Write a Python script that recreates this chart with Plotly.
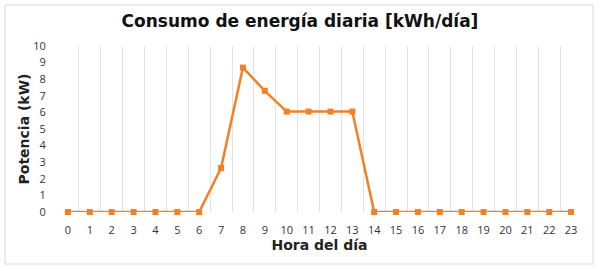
import plotly.graph_objects as go

hours = list(range(24))
potencia = [0, 0, 0, 0, 0, 0, 0, 2.65, 8.7, 7.3, 6.05, 6.05, 6.05, 6.05,
            0, 0, 0, 0, 0, 0, 0, 0, 0, 0]
y_ticks = list(range(0, 11))

orange = "#F28025"
W, H = 600, 271
L, R, T, B = 57, 18, 46, 59
pw, ph = W - L - R, H - T - B

fig = go.Figure()
fig.add_trace(go.Scatter(
    x=hours, y=potencia, mode="lines+markers",
    line=dict(color=orange, width=2.5),
    marker=dict(symbol="square", size=6, color=orange),
    cliponaxis=False, showlegend=False,
))

fig.update_layout(
    width=W, height=H,
    margin=dict(l=L, r=R, t=T, b=B, autoexpand=False),
    paper_bgcolor="white", plot_bgcolor="white",
    title=dict(text="<b>Consumo de energía diaria [kWh/día]</b>",
               x=0.5, xanchor="center", y=1 - 21 / H, yanchor="middle",
               font=dict(family="DejaVu Sans", size=17, color="#111111")),
    xaxis=dict(range=[-0.5, 23.5], tickmode="array", tickvals=hours,
               ticktext=[str(h) for h in hours], showgrid=False,
               zeroline=False, showline=False, automargin=False,
               ticks="outside", ticklen=8, tickcolor="rgba(0,0,0,0)",
               tickfont=dict(family="Open Sans", size=11, color="#333333"),
               title=dict(text="<b>Hora del día</b>", standoff=3,
                          font=dict(family="DejaVu Sans", size=14, color="#222222")),
               minor=dict(tick0=-0.5, dtick=1, showgrid=True,
                          gridcolor="#E3E3E3", gridwidth=1, ticks="")),
    yaxis=dict(range=[0, 10], tickmode="array", tickvals=y_ticks,
               showgrid=False, zeroline=False, showline=False, automargin=False,
               ticks="outside", ticklen=8, tickcolor="rgba(0,0,0,0)",
               tickfont=dict(family="Open Sans", size=11, color="#333333"),
               title=dict(text="<b>Potencia (kW)</b>", standoff=0,
                          font=dict(family="DejaVu Sans", size=14, color="#222222"))),
    shapes=[dict(type="rect", xref="paper", yref="paper",
                 x0=(5 - L) / pw, x1=(593 - L) / pw,
                 y0=(H - B - 264) / ph, y1=(H - B - 5) / ph,
                 line=dict(color="#D9D9D9", width=1), layer="below")],
)

fig.write_html(
    "out.html",
    config={"displayModeBar": False},
    post_script="document.body.style.margin='0';document.body.style.overflow='hidden';",
)
